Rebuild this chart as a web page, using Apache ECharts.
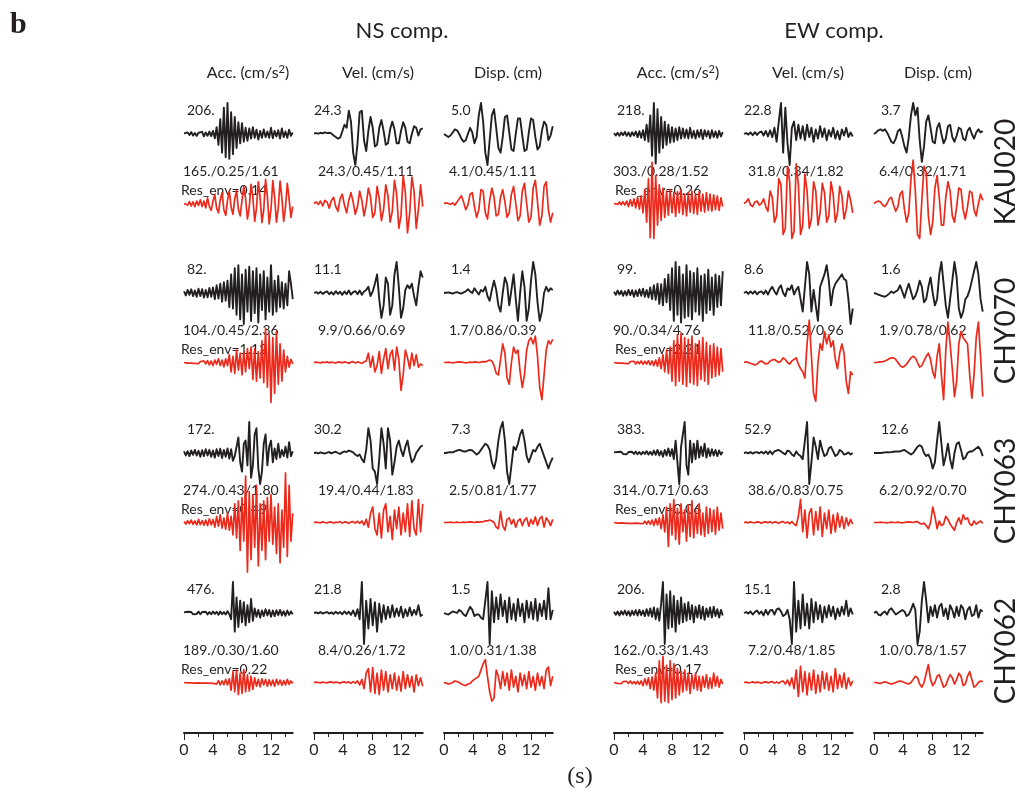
<!DOCTYPE html>
<html>
<head>
<meta charset="utf-8">
<script src="https://cdn.jsdelivr.net/npm/echarts@6/dist/echarts.min.js"></script>
<style>
  html, body { margin: 0; padding: 0; background: #fff; }
  #chart { width: 1020px; height: 796px; }
</style>
</head>
<body>
<div id="chart"></div>
<script>
// ---- labels ----
const stations = ['KAU020', 'CHY070', 'CHY063', 'CHY062'];
const compTitles = ['NS comp.', 'EW comp.'];
const qtyTitles = ['Acc. (cm/s{sup|2})', 'Vel. (cm/s)', 'Disp. (cm)'];
const sampleStep = [0.25, 0.3, 0.3];   // s, acc / vel / disp
const timeTicks = [0, 2, 4, 6, 8, 10, 12, 14];
const timeLabels = [0, 4, 8, 12];

// observed peak (black), per station: NS acc, vel, disp, EW acc, vel, disp
const peakObs = [
  ['206.', '24.3', '5.0', '218.', '22.8', '3.7'],
  ['82.', '11.1', '1.4', '99.', '8.6', '1.6'],
  ['172.', '30.2', '7.3', '383.', '52.9', '12.6'],
  ['476.', '21.8', '1.5', '206.', '15.1', '2.8']
];
// synthetic peak / misfit labels (red)
const fitLabels = [
  ['165./0.25/1.61', '24.3/0.45/1.11', '4.1/0.45/1.11', '303./0.28/1.52', '31.8/0.34/1.82', '6.4/0.32/1.71'],
  ['104./0.45/2.36', '9.9/0.66/0.69', '1.7/0.86/0.39', '90./0.34/4.76', '11.8/0.52/0.96', '1.9/0.78/0.62'],
  ['274./0.43/1.80', '19.4/0.44/1.83', '2.5/0.81/1.77', '314./0.71/0.63', '38.6/0.83/0.75', '6.2/0.92/0.70'],
  ['189./0.30/1.60', '8.4/0.26/1.72', '1.0/0.31/1.38', '162./0.33/1.43', '7.2/0.48/1.85', '1.0/0.78/1.57']
];
const resEnvNS = ['0.14', '1.12', '0.49', '0.22'];
const resEnvEW = ['0.26', '2.21', '0.06', '0.17'];

// ---- waveforms, in % of the observed peak ----
// KAU020
const kau020NsAccObs = [2,-4,5,-3,6,-5,3,-6,4,-2,7,-8,5,-6,8,-7,10,-14,22,-35,48,-60,85,-75,100,-80,70,-65,55,-45,38,-30,35,-25,20,-22,18,-15,22,-12,14,-18,10,-12,15,-10,8,-12,20,-14,10,-8,12,-15,18,-10,8,-12,14,-6,5];
const kau020NsAccSyn = [0,3,-5,6,-8,5,-10,8,-6,12,-10,8,-14,18,-10,-22,8,28,-15,-30,12,35,-20,-38,10,40,-12,-35,15,42,-18,-40,10,55,15,-50,-12,62,20,-58,-15,70,18,-62,-20,78,22,-66,-18,74,20,-60,-15,72,18,-58,-12,65,14,-45,-10];
const kau020NsVelObs = [2,3,1,4,2,5,3,4,2,-5,-10,-15,-12,8,30,20,75,40,-60,-100,-30,70,75,-20,-55,10,55,20,-40,-35,20,45,10,-35,-30,15,40,15,-30,-30,10,38,20,-25,-30,0,25,20,-5,15,18];
const kau020NsVelSyn = [0,5,-3,8,-8,10,5,-15,10,20,-10,-25,15,30,-5,-30,10,35,5,-35,-10,40,10,-40,-5,50,20,-45,-30,55,15,-55,-20,60,25,-60,-25,75,30,-80,-40,90,35,-95,-30,85,40,-80,-20,60,-10];
const kau020NsDispObs = [0,-5,-10,-5,5,15,12,0,-15,-25,-20,0,20,5,-30,-10,60,100,40,-60,-100,-20,60,80,20,-45,-60,-10,55,60,5,-50,-55,0,50,50,-5,-55,-50,5,50,45,-10,-50,-40,10,40,30,-20,-5,25];
const kau020NsDispSyn = [0,2,0,-3,2,-5,5,15,25,5,-20,-5,30,35,-10,-45,-20,45,40,-30,-50,10,50,20,-40,-35,20,45,5,-45,-30,30,55,0,-55,-40,40,65,0,-60,-45,50,75,5,-70,-40,55,70,-20,-60,-30];
const kau020EwAccObs = [3,-5,4,-6,5,-4,7,-6,5,-8,6,-5,8,-10,9,-12,12,-20,30,-25,60,-70,100,-95,80,-60,55,-45,40,-35,30,-28,22,-25,18,-20,22,-15,18,-12,15,-14,20,-12,10,-15,12,-10,14,-16,12,-8,10,-14,12,-10,8,-12,10,-8,6];
const kau020EwAccSyn = [0,2,-3,5,-4,6,-5,8,-10,12,-8,15,-14,20,-18,25,-30,45,-60,80,-110,133,-113,90,-70,60,-55,50,-45,40,-38,45,-30,35,-42,38,-30,45,-35,30,-40,35,-28,40,-32,30,-35,38,-25,30,-28,35,-22,30,-25,28,-20,25,-22,18,-10];
const kau020EwVelObs = [0,3,-2,5,-4,6,-3,5,8,-5,10,-8,12,-10,20,-25,40,100,-60,85,-30,-100,20,40,-20,30,-15,25,-20,30,-10,20,-25,15,-15,25,-10,18,-20,12,-8,20,-15,10,-18,15,-5,20,-10,5,-8];
const kau020EwVelSyn = [0,5,15,-5,-10,5,8,-5,0,15,-10,-25,40,20,-60,-40,80,60,-100,-80,120,70,-113,-90,128,60,-100,-70,95,40,-80,-50,70,40,-70,-30,65,35,-60,-40,70,30,-60,-30,55,25,-50,-20,40,10,-30];
const kau020EwDispObs = [0,5,12,15,10,15,5,-10,-25,-30,-15,10,15,-10,-40,-60,-10,60,100,60,85,-20,-90,-40,40,60,20,-25,-30,20,35,0,-30,-15,25,30,-10,-25,-5,20,15,-15,-20,10,20,0,-15,5,15,5,10];
const kau020EwDispSyn = [0,5,8,5,-5,-10,0,15,20,-5,-25,-10,30,40,-20,-60,-30,80,140,40,-100,-113,10,120,100,-40,-100,-60,50,90,20,-70,-70,20,70,40,-40,-60,-10,50,45,-20,-50,-10,40,35,-20,-40,0,30,10];

// CHY070
const chy070NsAccObs = [5,-8,10,-6,12,-10,8,-12,14,-10,12,-15,10,-14,16,-12,18,-20,25,-18,30,-28,35,-25,40,-45,60,-50,80,-70,90,-85,60,-100,75,-60,85,-90,70,-65,80,-95,60,-55,70,-85,50,-60,90,-70,40,-60,55,-45,35,-50,30,-40,70,30,-20];
const chy070NsAccSyn = [0,1,-2,2,-2,3,-3,2,-4,3,-3,5,-4,6,-8,5,-10,8,-6,12,-10,8,-14,12,-10,25,-30,20,-35,40,-25,30,-40,35,-30,45,-20,50,-55,45,-60,35,-50,70,-65,110,-80,90,-129,80,-100,100,-70,60,-60,40,-30,20,-15,10,-5];
const chy070NsVelObs = [0,3,-2,4,-3,2,5,-4,3,-5,6,-3,4,-6,5,-4,8,-5,3,6,-4,8,-6,5,10,20,-10,5,30,60,-20,-80,-40,50,30,-70,-40,60,100,20,-80,-50,10,25,15,30,-10,-40,20,70,50];
const chy070NsVelSyn = [0,1,0,-1,1,0,2,-1,1,0,-2,2,1,-1,2,0,-2,1,3,-2,2,0,-3,2,5,30,-15,20,-30,-10,35,-35,10,45,-20,25,40,-25,50,10,-90,-40,40,15,-20,30,-10,25,-15,-5,-10];
const chy070NsDispObs = [0,1,2,0,-2,1,3,0,-2,2,5,12,5,0,15,5,-5,10,5,20,-10,-25,10,40,10,-40,-60,0,50,30,-40,10,60,-20,-90,0,70,20,-90,-50,40,100,60,-30,-90,-60,0,20,5,15,10];
const chy070NsDispSyn = [0,0,1,0,-1,0,1,2,1,0,-1,0,1,0,2,1,0,1,3,2,5,8,5,-10,-35,-40,10,60,30,-50,-70,0,50,30,40,-30,-80,-40,40,70,80,60,85,20,-80,-120,-40,40,70,60,75];
const chy070EwAccObs = [4,-6,8,-5,7,-9,6,-8,10,-7,9,-12,8,-10,12,-9,14,-12,10,-15,18,-20,25,-22,30,-35,28,-40,45,-30,60,-55,80,-90,100,-70,85,-95,60,-80,90,-75,70,-85,65,-60,80,-70,55,-90,60,-65,75,-55,50,-70,60,-45,55,-40,70];
const chy070EwAccSyn = [0,2,-2,3,-2,4,-3,2,-4,3,-3,4,-5,3,-4,5,-6,4,-5,6,-8,5,-10,8,-12,15,-20,25,-30,40,-35,50,-60,70,-75,90,-60,96,-70,80,-77,75,-65,85,-70,60,-75,70,-55,80,-60,65,-70,55,-50,60,-45,50,-40,45,-30];
const chy070EwVelObs = [0,4,-3,5,-2,6,-4,3,5,-3,8,-5,10,20,5,-5,15,25,0,-10,15,10,25,-5,10,20,-20,-60,20,100,60,-60,10,-40,-90,20,40,60,90,40,-40,10,30,40,50,60,45,40,-20,-100,-50];
const chy070EwVelSyn = [0,2,0,-3,-5,-8,-5,2,5,0,-5,-3,5,8,10,5,0,5,15,10,0,-5,5,10,15,-5,-20,-30,-50,60,137,20,-100,-125,0,60,40,100,60,90,50,70,10,-20,30,60,30,-60,-100,-30,-40];
const chy070EwDispObs = [0,-2,-5,-8,-10,-12,-8,-2,5,0,5,10,25,5,-15,10,30,5,-20,-10,10,40,20,-30,-20,20,50,0,-40,-20,60,100,30,-40,-80,-20,40,100,50,-50,-80,-60,-20,-10,10,40,70,100,60,-20,-60];
const chy070EwDispSyn = [0,0,1,2,3,5,8,12,15,15,10,0,-10,-15,-12,-5,5,15,20,15,0,-15,-10,5,20,30,10,-30,-50,20,60,-40,-120,40,130,60,-20,-110,-60,60,100,80,70,60,-40,-115,-40,80,130,20,-110];

// CHY063
const chy063NsAccObs = [5,-8,6,-10,8,-6,10,-8,7,-12,9,-10,12,-8,10,-12,8,-15,12,-10,14,-16,10,-12,15,-18,12,-25,-10,20,50,-30,-60,30,40,-40,100,-80,-40,60,80,-50,-100,-60,30,60,-40,20,40,-30,15,-20,30,-15,10,-10,20,-15,35,-10,5];
const chy063NsAccSyn = [3,-5,6,-4,8,-6,5,-8,10,-7,6,-9,8,-10,12,-8,10,-15,20,-12,25,-18,15,-22,30,-25,20,-40,60,-50,70,-90,80,-60,150,-160,100,-120,90,-80,120,-140,60,-90,70,-120,80,-60,90,-70,50,-100,60,-130,40,-80,160,-110,120,-60,30];
const chy063NsVelObs = [0,1,-1,2,0,-2,1,3,-1,2,4,0,-3,2,5,3,8,5,2,-5,-10,-5,-20,-30,10,80,40,-50,-60,-100,-20,80,30,-50,80,40,-70,-30,20,40,10,-10,20,40,0,-30,-20,0,10,20,25];
const chy063NsVelSyn = [0,1,0,-1,2,0,-1,1,2,-2,1,0,3,-2,2,1,-3,2,3,-2,4,-3,5,-8,10,-15,30,50,-20,-40,30,-50,40,60,-30,20,-55,40,-20,50,-40,30,-30,60,-45,70,-20,-40,74,-30,60];
const chy063NsDispObs = [0,0,2,3,2,5,8,10,8,5,5,8,10,8,2,-5,0,10,20,30,25,10,-30,-50,-20,40,80,100,40,-60,-100,-40,20,10,30,60,75,40,-10,-30,-10,10,5,20,30,10,-10,-30,-50,-30,-15];
const chy063NsDispSyn = [0,0,0,1,0,0,1,0,0,1,0,1,2,1,0,2,1,2,3,5,5,8,5,0,-15,-20,35,-10,-25,10,15,-5,10,-15,5,12,-10,8,15,-12,10,-5,18,-10,12,20,-15,15,5,-10,10];
const chy063EwAccObs = [2,-3,3,-2,4,-3,2,-4,3,-2,4,-3,5,-4,3,-5,4,-3,6,-5,4,-6,8,-6,10,-8,6,-12,10,-8,15,-10,12,-20,40,-30,-100,20,60,100,-40,-70,40,-30,30,-20,40,-15,20,-10,30,-15,15,-10,12,-8,10,-10,8,-5,4];
const chy063EwAccSyn = [0,1,-2,2,-1,3,-2,2,-3,2,-3,3,-2,4,-3,3,-4,4,-5,5,-6,8,-10,12,-8,15,-20,25,-30,50,-77,60,-40,74,-55,45,-70,60,-30,40,-60,55,-45,70,-50,40,-35,60,-40,30,-45,50,-35,45,-30,40,-38,50,-25,30,-20];
const chy063EwVelObs = [0,2,-1,3,-2,2,3,-1,4,-2,5,-3,6,-4,5,8,10,5,0,-5,8,5,-5,-10,5,-5,-10,-20,40,100,-100,-30,50,20,-20,40,10,-10,-5,15,20,5,-10,-5,10,5,-5,-3,2,-5,0];
const chy063EwVelSyn = [0,1,-1,2,0,-1,2,1,-2,1,2,-1,3,-2,2,1,-3,2,3,-2,2,-4,3,-5,-10,20,75,-30,40,-50,30,45,-40,35,-25,50,-45,30,-20,40,-35,25,-30,30,-15,20,-20,15,-10,10,-5];
const chy063EwDispObs = [0,0,0,0,1,2,3,2,3,4,5,5,5,8,10,5,0,-5,0,10,20,25,20,0,-10,-5,-20,-50,-30,40,100,30,-40,-10,30,-20,-50,0,30,35,10,-20,-15,0,5,5,10,15,20,10,-10];
const chy063EwDispSyn = [0,0,0,1,0,0,-1,0,1,0,0,1,0,-1,0,1,2,1,0,2,3,-3,-5,-2,-10,-20,0,50,20,-20,5,-10,-5,20,10,-5,-15,-25,0,15,-5,25,10,15,-5,-10,5,-5,0,5,-3];

// CHY062
const chy062NsAccObs = [2,-3,4,-2,3,-4,2,-3,5,-4,3,-2,4,-5,3,-4,5,-3,4,-6,5,-4,3,-5,6,-4,-20,100,-60,50,-45,40,-30,35,-40,25,-30,45,-25,15,-12,10,-15,8,-10,12,-8,10,-12,8,-10,9,-7,10,-8,6,-9,8,-6,5,-4];
const chy062NsAccSyn = [0,1,-1,2,-1,1,-2,2,-1,2,-2,1,-2,3,-2,2,-3,3,-5,6,-8,5,-7,10,-8,12,-25,35,-30,40,-39,30,-35,42,-30,25,-28,20,-22,15,-12,10,-14,12,-8,10,-12,9,-10,8,-12,10,-7,8,-9,6,-8,10,-6,5,-3];
const chy062NsVelObs = [0,2,-1,3,-2,1,3,-2,2,-3,4,-2,3,-4,5,-3,4,-6,8,-10,12,-20,100,-100,40,-50,45,-40,35,-60,30,-30,25,-20,20,-15,25,-12,15,-10,20,-15,12,-10,18,-8,10,-5,25,-10,-5];
const chy062NsVelSyn = [0,1,0,-1,1,0,-1,1,2,-1,1,0,-2,1,2,-1,2,-3,3,-2,5,-8,10,-20,30,45,-30,48,-35,30,-39,40,-25,35,-30,25,-20,30,-25,20,-28,35,-20,25,-15,20,-30,25,-10,15,-12];
const chy062NsDispObs = [0,-3,-5,0,5,3,0,10,5,-5,-10,5,20,10,-10,-5,-5,-15,-20,40,100,-100,70,-30,50,-20,60,-10,40,-30,50,-20,30,-25,45,-10,30,-30,40,-15,35,-20,45,-25,30,-10,40,-20,80,-20,10];
const chy062NsDispSyn = [0,-2,-5,-3,0,5,3,0,-5,-8,-10,-5,-3,5,10,15,20,40,60,74,20,-30,-60,-50,40,20,-20,35,-10,30,-25,40,-15,20,-30,30,-10,25,-20,35,-15,20,-25,30,-10,20,-20,40,50,-10,20];
const chy062EwAccObs = [4,-6,5,-8,6,-5,8,-7,6,-9,7,-6,9,-8,10,-7,8,-10,12,-9,15,-12,18,-20,15,-25,30,100,-100,60,-50,70,-45,55,-60,40,-35,50,-30,30,-25,35,-20,25,-30,20,-15,25,-18,20,-22,15,-12,18,-15,20,-10,12,-15,10,-8];
const chy062EwAccSyn = [0,2,-3,2,-4,3,-2,4,-3,5,-4,3,-5,4,-6,5,-10,12,-8,15,-20,18,-25,30,-50,70,-65,84,-60,55,-65,70,-55,60,-50,45,-40,35,-30,40,-25,30,-35,25,-20,30,-25,20,-28,20,-15,25,-20,15,-18,30,-12,20,-15,10,-5];
const chy062EwVelObs = [0,3,-2,5,-5,3,8,-3,5,-8,10,-5,8,10,-5,12,15,5,-10,-5,10,-20,-100,100,-60,40,-50,60,-40,30,-50,45,-30,35,-20,25,-30,20,-15,25,-10,20,-20,15,-10,20,-5,40,-10,15,-5];
const chy062EwVelSyn = [0,1,-1,0,2,-1,1,0,-2,1,2,-1,1,3,-2,2,-3,3,5,-5,8,-10,15,-20,40,-45,52,-30,35,-40,30,-25,40,-35,25,-30,35,-20,30,-25,20,-30,45,-20,25,-15,30,-20,15,-10,5];
const chy062EwDispObs = [0,5,-5,-8,0,5,-5,10,15,5,-5,0,5,10,5,-10,-5,10,30,10,-100,-60,40,100,40,-30,20,-10,25,-15,20,30,-10,15,-20,25,10,-15,20,-10,25,15,-20,10,20,-10,-5,25,-15,10,5];
const chy062EwDispSyn = [0,0,-2,-3,0,2,0,-3,-5,-3,0,3,5,3,0,-3,-5,0,10,20,15,-5,-15,0,30,58,10,-10,0,20,25,5,-15,-10,10,25,15,-5,10,30,20,-10,-5,20,35,10,-15,-10,0,5,3];

// per station, per column: [observed, synthetic]
const stationTraces = [
  [[kau020NsAccObs, kau020NsAccSyn], [kau020NsVelObs, kau020NsVelSyn], [kau020NsDispObs, kau020NsDispSyn],
   [kau020EwAccObs, kau020EwAccSyn], [kau020EwVelObs, kau020EwVelSyn], [kau020EwDispObs, kau020EwDispSyn]],
  [[chy070NsAccObs, chy070NsAccSyn], [chy070NsVelObs, chy070NsVelSyn], [chy070NsDispObs, chy070NsDispSyn],
   [chy070EwAccObs, chy070EwAccSyn], [chy070EwVelObs, chy070EwVelSyn], [chy070EwDispObs, chy070EwDispSyn]],
  [[chy063NsAccObs, chy063NsAccSyn], [chy063NsVelObs, chy063NsVelSyn], [chy063NsDispObs, chy063NsDispSyn],
   [chy063EwAccObs, chy063EwAccSyn], [chy063EwVelObs, chy063EwVelSyn], [chy063EwDispObs, chy063EwDispSyn]],
  [[chy062NsAccObs, chy062NsAccSyn], [chy062NsVelObs, chy062NsVelSyn], [chy062NsDispObs, chy062NsDispSyn],
   [chy062EwAccObs, chy062EwAccSyn], [chy062EwVelObs, chy062EwVelSyn], [chy062EwDispObs, chy062EwDispSyn]]
];

// ---- layout ----
const colX = [184, 314, 444, 614, 744, 874];
const pxPerSec = 7.25;
const tMax = 15;
const rowBase = [134, 293, 453, 613];
const synGap = 69.5;
const halfH = 31;
const axisY = 733;
const obsDx = [3, 0, 7];
const synDx = [-1, 4, 5];
const ink = '#231f20';
const red = '#ec2a1c';
const sans = 'Lato, "Open Sans", sans-serif';
const serif = '"Liberation Serif", "DejaVu Serif", serif';

const grids = [], xAxes = [], yAxes = [], series = [], texts = [];

function addTrace(values, dt, left, base, color, width) {
  const idx = grids.length;
  grids.push({ left: left, top: base - halfH, width: tMax * pxPerSec, height: 2 * halfH });
  xAxes.push({ gridIndex: idx, type: 'value', min: 0, max: tMax, show: false });
  yAxes.push({ gridIndex: idx, type: 'value', min: -100, max: 100, show: false });
  series.push({
    type: 'line', xAxisIndex: idx, yAxisIndex: idx,
    data: values.map((v, i) => [+(i * dt).toFixed(3), v]),
    showSymbol: false, symbol: 'none', clip: false, silent: true,
    lineStyle: { color: color, width: width, join: 'round' }
  });
}

function addText(str, x, y, opts) {
  texts.push({
    type: 'text', x: x, y: y, silent: true,
    style: Object.assign({ text: str, fill: ink, font: '14px ' + sans, textAlign: 'left', textVerticalAlign: 'middle' }, opts || {})
  });
}

stationTraces.forEach((row, r) => {
  const base = rowBase[r];
  row.forEach((pair, c) => {
    const q = c % 3;
    addTrace(pair[0], sampleStep[q], colX[c], base, ink, 1.9);
    addTrace(pair[1], sampleStep[q], colX[c], base + synGap, red, 1.7);
    addText(peakObs[r][c], colX[c] + obsDx[q], base - 24);
    addText(fitLabels[r][c], colX[c] + synDx[q], base + 37.5);
  });
  addText('Res_env=' + resEnvNS[r], colX[0] - 3, base + 56);
  addText('Res_env=' + resEnvEW[r], colX[3] + 1, base + 56);
  texts.push({
    type: 'text', x: 1006, y: base + 38, rotation: Math.PI / 2, silent: true,
    style: { text: stations[r], fill: ink, font: '28px ' + sans, textAlign: 'center', textVerticalAlign: 'middle' }
  });
});

// time axes under each column
colX.forEach((x) => {
  const major = grids.length;
  grids.push({ left: x, top: axisY - 10, width: tMax * pxPerSec, height: 10 });
  xAxes.push({
    gridIndex: major, type: 'value', min: 0, max: tMax, position: 'bottom',
    axisLine: { lineStyle: { color: ink, width: 2 } },
    axisTick: { customValues: timeLabels, length: 7, lineStyle: { color: ink, width: 1 } },
    axisLabel: { customValues: timeLabels, color: ink, fontSize: 16, fontFamily: sans, margin: 9 },
    splitLine: { show: false }
  });
  yAxes.push({ gridIndex: major, type: 'value', show: false });
  const minor = grids.length;
  grids.push({ left: x, top: axisY - 10, width: tMax * pxPerSec, height: 10 });
  xAxes.push({
    gridIndex: minor, type: 'value', min: 0, max: tMax, position: 'bottom',
    axisLine: { show: false },
    axisTick: { customValues: timeTicks.filter(t => timeLabels.indexOf(t) < 0), length: 4, lineStyle: { color: ink, width: 1 } },
    axisLabel: { show: false },
    splitLine: { show: false }
  });
  yAxes.push({ gridIndex: minor, type: 'value', show: false });
});

// headers
addText('b', 10, 25, { font: 'bold 30px ' + serif });
addText(compTitles[0], 402, 31, { font: '22px ' + sans, textAlign: 'center' });
addText(compTitles[1], 834, 31, { font: '22px ' + sans, textAlign: 'center' });
colX.forEach((x, c) => {
  addText(qtyTitles[c % 3], x + 64, 73, {
    font: '16px ' + sans, textAlign: 'center',
    rich: { sup: { fontSize: 11, fontFamily: 'Lato', fill: ink, padding: [0, 0, 8, 0] } }
  });
});
addText('(s)', 580, 777, { font: '24px ' + serif, textAlign: 'center' });

const chart = echarts.init(document.getElementById('chart'), null, { renderer: 'canvas' });
chart.setOption({
  animation: false,
  backgroundColor: '#ffffff',
  grid: grids,
  xAxis: xAxes,
  yAxis: yAxes,
  series: series,
  graphic: { elements: texts }
});
</script>
</body>
</html>
